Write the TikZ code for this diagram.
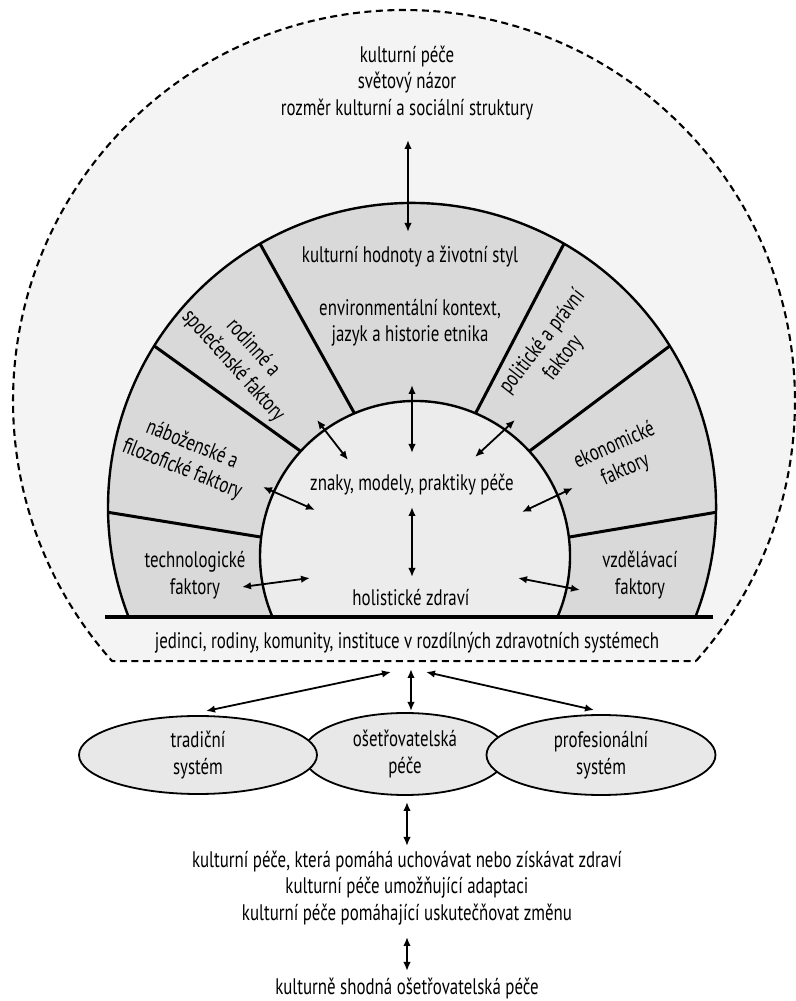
\documentclass[tikz,border=0pt]{standalone}
\usepackage{fontspec}
\setmainfont{PT Sans}[FakeStretch=0.75]
\usetikzlibrary{arrows.meta, calc, positioning, shapes.geometric}
\definecolor{sky_grey}{gray}{0.957}
\definecolor{ring_grey}{gray}{0.85}
\definecolor{core_grey}{gray}{0.925}
\definecolor{oval_grey}{gray}{0.91}
\tikzset{
	lbl/.style={font=\fontsize{22.5bp}{26.5bp}\selectfont, align=center, inner sep=0pt},
	link/.style={{Latex[length=9bp,width=7.5bp]}-{Latex[length=9bp,width=7.5bp]}, line width=1.8bp},
	spoke/.style={line width=3bp},
	oval/.style={ellipse, draw, line width=1.8bp, fill=oval_grey, inner sep=0pt, lbl}
}

\begin{document}
\begin{tikzpicture}[x=1bp,y=1bp,line join=round]
	\useasboundingbox (0,0) rectangle (796,1001);
	\coordinate (dc) at (404,600);
	\coordinate (oc) at (412,494);
	\coordinate (ic) at (415,445);
	\filldraw[fill=sky_grey, line width=2.1bp, dash pattern=on 7bp off 4.5bp]
		(dc) ++(-41.7:391) arc[start angle=-41.7, end angle=221.7, radius=391] -- cycle;
	\filldraw[fill=ring_grey, line width=2.4bp]
		(oc) ++(-21.2:304) arc[start angle=-21.2, end angle=201.2, radius=304] -- cycle;
	\filldraw[fill=core_grey, line width=2.4bp]
		(ic) ++(-23.2:155) arc[start angle=-23.2, end angle=203.2, radius=155] -- cycle;
	\foreach\a/\b in {-1/7, 32/42.5, 60/67, 120/113, 148/137.5, 181/173}
		\draw[spoke] ($(oc)+(\a:304)$) -- ($(ic)+(\b:155)$);
	\draw[line width=4.8bp] (105,384) -- (713,384);

	\node[lbl] (view) at (407,918) {kulturní péče\\světový názor\\rozměr kulturní a sociální struktury};
	\node[lbl] (values) at (410,744) {kulturní hodnoty a životní styl};
	\node[lbl] (context) at (410,678) {environmentální kontext,\\jazyk a historie etnika};
	\node[lbl] (signs) at (412,516) {znaky, modely, praktiky péče};
	\node[lbl] (health) at (411,403) {holistické zdraví};
	\node[lbl] (tech) at (195,426) {technologické\\faktory};
	\node[lbl] (edu) at (640,426) {vzdělávací\\faktory};
	\node[lbl, rotate=-22] (relig) at (187,544) {náboženské a\\filozofické faktory};
	\node[lbl, rotate=-48] (family) at (243,644) {rodinné a\\společenské faktory};
	\node[lbl, rotate=52] (polit) at (553,651) {politické a právní\\faktory};
	\node[lbl, rotate=24] (econ) at (620,543) {ekonomické\\faktory};
	\node[lbl] (people) at (407,358) {jedinci, rodiny, komunity, instituce v rozdílných zdravotních systémech};

	\node[oval, minimum width=204bp, minimum height=82bp] (nursing) at (405,247) {ošetřovatelská\\péče};
	\node[oval, minimum width=238bp, minimum height=78bp] (folk) at (198,246) {tradiční\\systém};
	\node[oval, minimum width=229bp, minimum height=80bp] (prof) at (601,246) {profesionální\\systém};

	\node[lbl] (modes) at (407,113) {kulturní péče, která pomáhá uchovávat nebo získávat zdraví\\kulturní péče umožňující adaptaci\\kulturní péče pomáhající uskutečňovat změnu};
	\node[lbl] (congruent) at (407,12) {kulturně shodná ošetřovatelská péče};

	\coordinate (t1) at (408,861);  \coordinate (t2) at (408,769);
	\coordinate (u1) at (412,616);  \coordinate (u2) at (412,548);
	\coordinate (v1) at (412,494);  \coordinate (v2) at (412,424);
	\coordinate (f1) at (317,581);  \coordinate (f2) at (348,541);
	\coordinate (r1) at (263,514);  \coordinate (r2) at (315,491);
	\coordinate (g1) at (242,414);  \coordinate (g2) at (310,423);
	\coordinate (p1) at (515,581);  \coordinate (p2) at (475,544);
	\coordinate (e1) at (573,513);  \coordinate (e2) at (522,489);
	\coordinate (d1) at (518,423);  \coordinate (d2) at (580,411);
	\coordinate (l1) at (391,329);  \coordinate (l2) at (206,290);
	\coordinate (m1) at (411,332);  \coordinate (m2) at (411,290);
	\coordinate (n1) at (426,329);  \coordinate (n2) at (594,291);
	\coordinate (b1) at (407,199);  \coordinate (b2) at (407,155);
	\coordinate (c1) at (407,64);   \coordinate (c2) at (407,30);
	\foreach\s/\e in {t1/t2,u1/u2,v1/v2,f1/f2,r1/r2,g1/g2,p1/p2,e1/e2,d1/d2,l1/l2,m1/m2,n1/n2,b1/b2,c1/c2}
		\draw[link] (\s) -- (\e);
\end{tikzpicture}
\end{document}
